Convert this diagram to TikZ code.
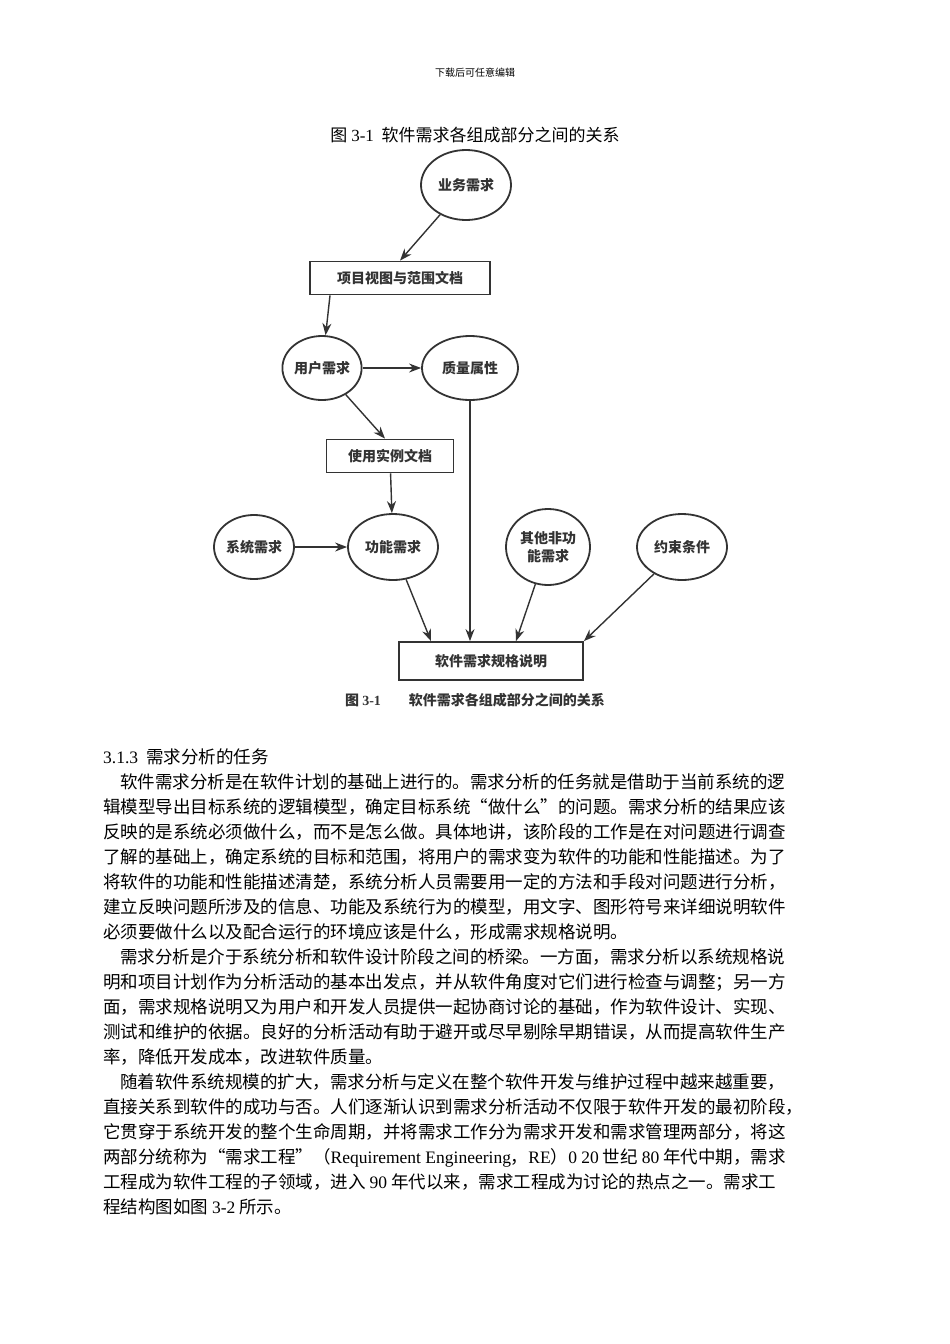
\documentclass[tikz,border=0pt]{standalone}
\usepackage{fontspec}
\setmainfont{Noto Sans CJK SC}
\newfontfamily\lat{Liberation Serif}
\usetikzlibrary{shapes.geometric,arrows.meta}
\colorlet{scan}{black!80}
\tikzset{
 ell/.style={ellipse,draw=scan,line width=1.8pt,minimum width=86pt,minimum height=64pt,inner sep=0pt,font=\bfseries\fontsize{14}{18}\selectfont,text=scan,align=center},
 box/.style={rectangle,draw=scan,line width=1.8pt,font=\bfseries\fontsize{14}{18}\selectfont,text=scan,inner sep=0pt},
 arr/.style={-{Stealth[length=12pt,width=9pt]},line width=1.4pt,draw=scan,fill=scan},
 ln/.style={anchor=base west,inner sep=0pt,font=\fontsize{17.5}{20}\selectfont},
}
\begin{document}
\begin{tikzpicture}[x=1pt,y=-1pt]
\useasboundingbox (0,0) rectangle (950,1344);
\node[font=\fontsize{10}{12}\selectfont] (hd) at (475,73) {下载后可任意编辑};
\node[font=\fontsize{17}{20}\selectfont] (tt) at (475,135) {图 {\lat 3-1}\ \ 软件需求各组成部分之间的关系};
% diagram
\node[ell,minimum width=90pt,minimum height=70pt] (yw) at (466,185) {业务需求};
\node[box,minimum width=180pt,minimum height=33pt] (xm) at (400,278) {项目视图与范围文档};
\node[ell,minimum width=76pt] (yh) at (322,368) {用户需求};
\node[ell,minimum width=96pt] (zl) at (470,368) {质量属性};
\node[box,minimum width=127pt,minimum height=33pt] (sy) at (390,456) {使用实例文档};
\node[ell,minimum width=80pt] (xt) at (254,547) {系统需求};
\node[ell,minimum width=90pt,minimum height=66pt] (gn) at (393,547) {功能需求};
\node[ell,minimum width=84pt,minimum height=76pt] (qt) at (548,547) {其他非功\\能需求};
\node[ell,minimum width=90pt,minimum height=66pt] (ys) at (682,547) {约束条件};
\node[box,minimum width=184pt,minimum height=38pt] (rs) at (491,661) {软件需求规格说明};
\node[font=\bfseries\fontsize{14}{18}\selectfont,text=scan] (cap) at (475,700) {图 {\lat 3-1}\qquad 软件需求各组成部分之间的关系};
\draw[arr] (yw) -- (xm.north);
\draw[arr] ([xshift=-70pt]xm.south) -- (yh);
\draw[arr] (yh) -- (zl);
\draw[arr] (yh) -- ([xshift=-5pt]sy.north);
\draw[arr] (sy) -- (gn);
\draw[arr] (xt) -- (gn);
\draw[arr] (gn) -- ([xshift=-60pt]rs.north);
\draw[arr] (zl.south) -- (zl.south |- rs.north);
\draw[arr] (qt) -- ([xshift=25pt]rs.north);
\draw[arr] (ys) -- ([xshift=0pt]rs.north east);
% text
\node[ln] (h) at (103,763) {{\lat 3.1.3}\ \ 需求分析的任务};
\node[ln] (l1) at (120,788) {软件需求分析是在软件计划的基础上进行的。需求分析的任务就是借助于当前系统的逻};
\node[ln] (l2) at (103,813) {辑模型导出目标系统的逻辑模型，确定目标系统“做什么”的问题。需求分析的结果应该};
\node[ln] (l3) at (103,838) {反映的是系统必须做什么，而不是怎么做。具体地讲，该阶段的工作是在对问题进行调查};
\node[ln] (l4) at (103,863) {了解的基础上，确定系统的目标和范围，将用户的需求变为软件的功能和性能描述。为了};
\node[ln] (l5) at (103,888) {将软件的功能和性能描述清楚，系统分析人员需要用一定的方法和手段对问题进行分析，};
\node[ln] (l6) at (103,913) {建立反映问题所涉及的信息、功能及系统行为的模型，用文字、图形符号来详细说明软件};
\node[ln] (l7) at (103,938) {必须要做什么以及配合运行的环境应该是什么，形成需求规格说明。};
\node[ln] (m1) at (120,963) {需求分析是介于系统分析和软件设计阶段之间的桥梁。一方面，需求分析以系统规格说};
\node[ln] (m2) at (103,988) {明和项目计划作为分析活动的基本出发点，并从软件角度对它们进行检查与调整；另一方};
\node[ln] (m3) at (103,1013) {面，需求规格说明又为用户和开发人员提供一起协商讨论的基础，作为软件设计、实现、};
\node[ln] (m4) at (103,1038) {测试和维护的依据。良好的分析活动有助于避开或尽早剔除早期错误，从而提高软件生产};
\node[ln] (m5) at (103,1063) {率，降低开发成本，改进软件质量。};
\node[ln] (n1) at (120,1088) {随着软件系统规模的扩大，需求分析与定义在整个软件开发与维护过程中越来越重要，};
\node[ln] (n2) at (103,1113) {直接关系到软件的成功与否。人们逐渐认识到需求分析活动不仅限于软件开发的最初阶段，};
\node[ln] (n3) at (103,1138) {它贯穿于系统开发的整个生命周期，并将需求工作分为需求开发和需求管理两部分，将这};
\node[ln] (n4) at (103,1163) {两部分统称为“需求工程”（{\lat Requirement Engineering}，{\lat RE}）{\lat 0 20} 世纪 {\lat 80} 年代中期，需求};
\node[ln] (n5) at (103,1188) {工程成为软件工程的子领域，进入 {\lat 90} 年代以来，需求工程成为讨论的热点之一。需求工};
\node[ln] (n6) at (103,1213) {程结构图如图 {\lat 3-2} 所示。};
\end{tikzpicture}
\end{document}
